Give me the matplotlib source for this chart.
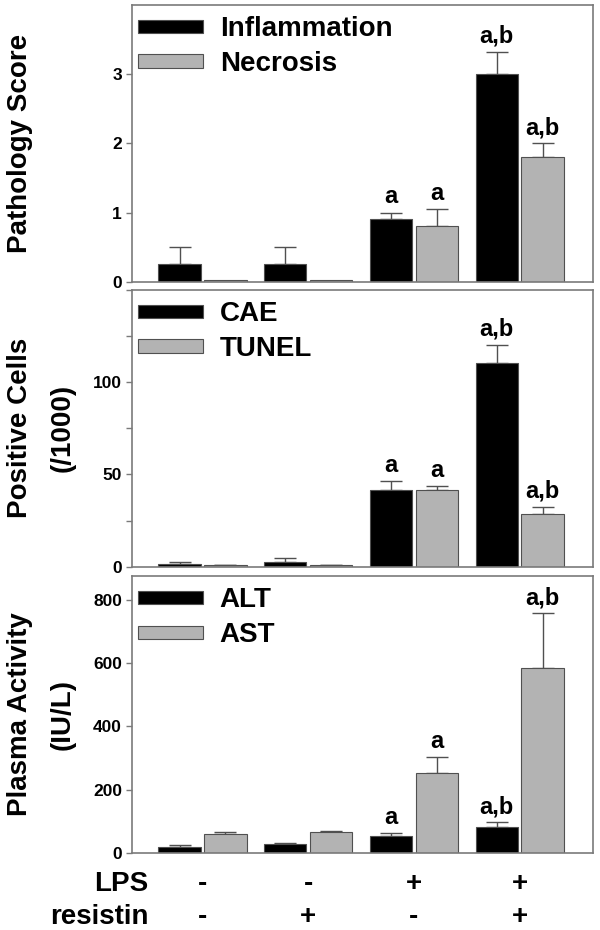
import numpy as np
import matplotlib.pyplot as plt
from matplotlib.patches import Patch
from matplotlib.ticker import MultipleLocator
from matplotlib.transforms import blended_transform_factory

plt.rcParams['font.family'] = ['Liberation Sans', 'DejaVu Sans']
plt.rcParams['font.weight'] = 'bold'

# treatment groups
lps = ['-', '-', '+', '+']
resistin = ['-', '+', '-', '+']

# panel 1: pathology score
inflammation = [0.25, 0.25, 0.9, 3.0]
inflammation_err = [0.25, 0.25, 0.1, 0.32]
necrosis = [0.03, 0.03, 0.8, 1.8]
necrosis_err = [0, 0, 0.25, 0.2]

# panel 2: positive cells (/1000)
cae = [1.5, 2.5, 41.5, 110.3]
cae_err = [1.2, 2.2, 5.1, 10.0]
tunel = [0.8, 0.8, 41.5, 28.6]
tunel_err = [0.3, 0.3, 2.4, 3.7]

# panel 3: plasma activity (IU/L)
alt = [19, 29, 54, 81]
alt_err = [4, 2, 7, 15]
ast = [59, 65, 253, 585]
ast_err = [7, 5, 50, 173]

# significance letters
letters = ['', '', 'a', 'a,b']

BLACK = '#000000'
GRAY = '#b3b3b3'
EDGE = '#505050'
SPINE = '#7a7a7a'

fig = plt.figure(figsize=(6, 9.3), dpi=100)
left, width, h = 0.2195, 0.768, 0.2975
bottoms = [0.6971, 0.3907, 0.0831]

panels = [
    ('Pathology Score', ('Inflammation', inflammation, inflammation_err),
     ('Necrosis', necrosis, necrosis_err), (0, 4), [0, 1, 2, 3], None),
    ('Positive Cells\n(/1000)', ('CAE', cae, cae_err),
     ('TUNEL', tunel, tunel_err), (0, 150), [0, 50, 100], 25),
    ('Plasma Activity\n(IU/L)', ('ALT', alt, alt_err),
     ('AST', ast, ast_err), (0, 876), [0, 200, 400, 600, 800], None),
]

x = np.arange(len(lps))
bw = 0.4
off = 0.217

for (ylab, s1, s2, ylim, yticks, minor), b in zip(panels, bottoms):
    ax = fig.add_axes([left, b, width, h])
    for (name, vals, errs), dx, col in [(s1, -off, BLACK), (s2, off, GRAY)]:
        vals = np.array(vals, dtype=float)
        errs = np.array(errs, dtype=float)
        ax.bar(x + dx, vals, bw, color=col, edgecolor=EDGE, linewidth=0.8,
               label=name, zorder=2)
        m = errs > 0
        ax.errorbar(x[m] + dx, vals[m], yerr=[np.zeros(m.sum()), errs[m]],
                    fmt='none', ecolor=EDGE, elinewidth=1, capsize=8,
                    capthick=1, zorder=1)
        for xi, v, e, t in zip(x + dx, vals, errs, letters):
            if t:
                ax.annotate(t, (xi, v + e), xytext=(0, 3),
                            textcoords='offset points', ha='center',
                            va='bottom', fontsize=17, fontweight='bold')
    ax.set_xlim(-0.67, 3.69)
    ax.set_ylim(*ylim)
    ax.set_yticks(yticks)
    if minor:
        ax.yaxis.set_minor_locator(MultipleLocator(minor))
    ax.set_xticks([])
    ax.tick_params(axis='y', which='both', direction='out', length=4,
                   width=1, color=SPINE, labelsize=12.5, pad=3)
    for sp in ax.spines.values():
        sp.set_color(SPINE)
        sp.set_linewidth(1.2)
    handles = [Patch(facecolor=BLACK, edgecolor=EDGE, linewidth=0.8),
               Patch(facecolor=GRAY, edgecolor=EDGE, linewidth=0.8)]
    ax.legend(handles, [s1[0], s2[0]], loc='upper left', frameon=False,
              prop={'size': 20, 'weight': 'bold'}, handlelength=2.35,
              handleheight=0.35, handletextpad=0.6, labelspacing=0.32,
              borderaxespad=0.1, borderpad=0.3, bbox_to_anchor=(-0.011, 1.0))
    tr = blended_transform_factory(fig.transFigure, ax.transAxes)
    ax.text(0.012, 0.5, ylab, transform=tr, rotation=90, ha='left',
            va='center', multialignment='center', fontsize=20,
            fontweight='bold', linespacing=1.8)

# treatment rows under the bottom panel
tr = blended_transform_factory(ax.transData, ax.transAxes)
trl = blended_transform_factory(fig.transFigure, ax.transAxes)
for row, name, yy in [(lps, 'LPS', -0.113), (resistin, 'resistin', -0.232)]:
    ax.text(0.247, yy, name, transform=trl, ha='right', va='center',
            fontsize=20, fontweight='bold')
    for xi, s in zip(x, row):
        ax.text(xi, yy, s, transform=tr, ha='center', va='center',
                fontsize=20, fontweight='bold')

fig.savefig('out.png', dpi=100)
